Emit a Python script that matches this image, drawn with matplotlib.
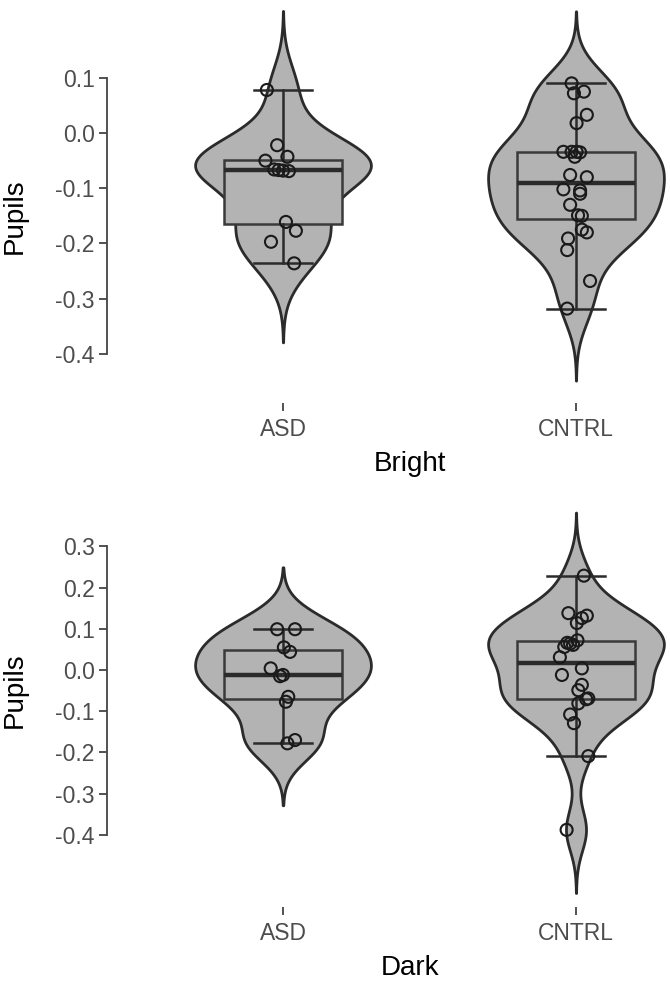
import matplotlib
matplotlib.use("Agg")
import matplotlib.pyplot as plt
import numpy as np

plt.rcParams['font.family'] = ['Liberation Sans', 'DejaVu Sans']

groups = ["ASD", "CNTRL"]

# Bright condition
bright_asd = [0.078, -0.022, -0.043, -0.050, -0.066, -0.067, -0.068, -0.069,
              -0.161, -0.177, -0.197, -0.236]
bright_cntrl = [0.090, 0.075, 0.072, 0.033, 0.018, -0.034, -0.034, -0.034,
                -0.035, -0.043, -0.076, -0.080, -0.102, -0.104, -0.110, -0.130,
                -0.149, -0.150, -0.175, -0.180, -0.191, -0.212, -0.268, -0.318]

# Dark condition
dark_asd = [0.099, 0.099, 0.055, 0.044, 0.004, -0.012, -0.015, -0.065,
            -0.077, -0.170, -0.178]
dark_cntrl = [0.229, 0.138, 0.132, 0.126, 0.114, 0.072, 0.066, 0.064, 0.061,
              0.056, 0.031, 0.004, -0.012, -0.036, -0.049, -0.069, -0.071,
              -0.081, -0.108, -0.129, -0.209, -0.388]

bright_ticks = [-0.4, -0.3, -0.2, -0.1, 0.0, 0.1]
dark_ticks = [-0.4, -0.3, -0.2, -0.1, 0.0, 0.1, 0.2, 0.3]

# horizontal jitter of the dots
jit_bright_asd = [-0.055, -0.02, 0.015, -0.06, -0.03, -0.015, 0.0, 0.02,
                  0.01, 0.044, -0.041, 0.038]
jit_bright_cntrl = [-0.015, 0.027, -0.007, 0.037, 0.002, -0.043, -0.015, 0.002,
                    0.014, -0.004, -0.02, 0.037, -0.043, 0.014, 0.014, -0.02,
                    0.007, 0.02, 0.02, 0.037, -0.027, -0.03, 0.048, -0.03]
jit_dark_asd = [-0.02, 0.041, 0.003, 0.024, -0.042, 0.0, -0.01, 0.018,
                0.01, 0.041, 0.015]
jit_dark_cntrl = [0.027, -0.026, 0.037, 0.02, 0.003, 0.005, -0.03, -0.02,
                  -0.01, -0.04, -0.055, 0.02, -0.048, 0.02, 0.008, 0.042,
                  0.035, 0.008, -0.02, -0.007, 0.042, -0.032]

fill = '#b3b3b3'
edge = '#2b2b2b'


def nrd0(x):
    x = np.asarray(x)
    iqr = np.percentile(x, 75) - np.percentile(x, 25)
    lo = min(np.std(x, ddof=1), iqr / 1.34)
    return 0.9 * lo * len(x) ** -0.2


def violin(ax, data, pos, half=0.3):
    data = np.asarray(data)
    bw = nrd0(data)
    grid = np.linspace(data.min() - 3 * bw, data.max() + 3 * bw, 512)
    dens = np.exp(-0.5 * ((grid[:, None] - data[None, :]) / bw) ** 2).sum(axis=1)
    w = half * dens / dens.max()
    ax.fill_betweenx(grid, pos - w, pos + w, facecolor=fill, edgecolor=edge,
                     linewidth=2.0, zorder=1)


def panel(ax, d1, d2, j1, j2, ylim, yticks, xlabel):
    for i, (d, j) in enumerate([(d1, j1), (d2, j2)]):
        pos = i + 1
        violin(ax, d, pos)
        ax.boxplot([d], positions=[pos], widths=0.4, whis=1.5, showfliers=False,
                   patch_artist=True, capwidths=[0.2],
                   boxprops=dict(facecolor=fill, edgecolor='#3a3a3a', linewidth=1.8),
                   medianprops=dict(color='#2b2b2b', linewidth=3.2),
                   whiskerprops=dict(color='#2b2b2b', linewidth=1.8),
                   capprops=dict(color='#2b2b2b', linewidth=1.8),
                   zorder=2)
        ax.scatter(pos + np.asarray(j), d, s=75, facecolors='none',
                   edgecolors='#1a1a1a', linewidths=1.5, zorder=3)

    ax.set_xlim(0.3993, 2.3038)
    ax.set_ylim(*ylim)
    ax.set_xticks([1, 2])
    ax.set_xticklabels(groups)
    ax.set_yticks(yticks)
    ax.set_yticklabels(["%.1f" % t for t in yticks])
    for s in ['top', 'right', 'bottom']:
        ax.spines[s].set_visible(False)
    ax.spines['left'].set_bounds(min(yticks), max(yticks))
    ax.spines['left'].set_color('#444444')
    ax.spines['left'].set_linewidth(1.3)
    ax.tick_params(axis='y', length=6, width=1.3, color='#444444', pad=3,
                   labelsize=16.5, labelcolor='#4d4d4d')
    ax.tick_params(axis='x', length=6, width=1.3, color='#444444', pad=5,
                   labelsize=16.5, labelcolor='#4d4d4d')

    ax.set_ylabel("Pupils", fontsize=20)
    ax.yaxis.set_label_coords(-0.165, np.mean([min(yticks), max(yticks)]),
                              transform=ax.get_yaxis_transform())
    ax.yaxis.label.set_va('center')
    ax.set_xlabel(xlabel, fontsize=20)
    ax.xaxis.set_label_coords(0.543, -0.152)
    ax.xaxis.label.set_va('center')


fig = plt.figure(figsize=(6.7, 9.82), dpi=100)
ax1 = fig.add_axes([107 / 670, 1 - 403 / 982, 558 / 670, 403 / 982])
ax2 = fig.add_axes([107 / 670, 1 - 907 / 982, 558 / 670, 402 / 982])

panel(ax1, bright_asd, bright_cntrl, jit_bright_asd, jit_bright_cntrl,
      (-0.489, 0.241), bright_ticks, "Bright")
panel(ax2, dark_asd, dark_cntrl, jit_dark_asd, jit_dark_cntrl,
      (-0.5752, 0.4005), dark_ticks, "Dark")

fig.savefig("out.png", dpi=100)
